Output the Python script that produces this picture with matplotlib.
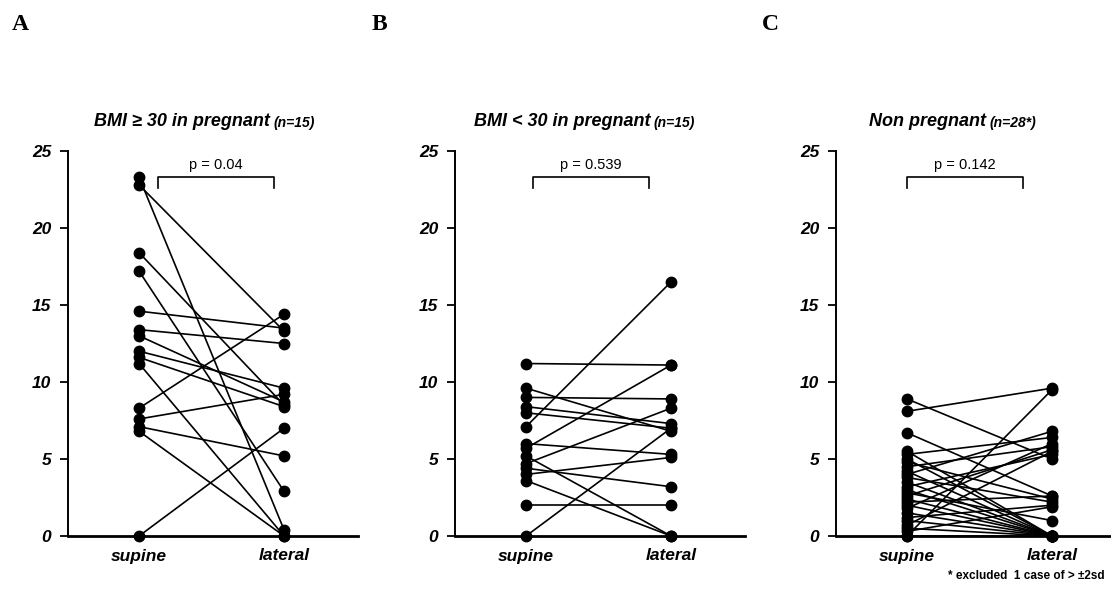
import matplotlib
matplotlib.use("Agg")
import matplotlib.pyplot as plt

# ---- data ----
conditions = ["supine", "lateral"]

supine_A = [23.3, 22.8, 18.4, 17.2, 14.6, 13.4, 13.0, 12.0, 11.6, 11.2, 8.3, 7.6, 7.1, 6.8, 0.0]
lateral_A = [0.4, 13.3, 8.5, 2.9, 13.5, 12.5, 8.7, 9.6, 8.4, 0.0, 14.4, 9.2, 5.2, 0.0, 7.0]

supine_B = [11.2, 9.6, 9.0, 8.4, 8.0, 7.1, 6.0, 5.7, 5.2, 4.7, 4.4, 4.0, 3.6, 2.0, 0.0]
lateral_B = [11.1, 6.8, 8.9, 7.3, 7.0, 16.5, 5.3, 11.1, 0.0, 8.3, 3.2, 5.1, 0.0, 2.0, 7.0]

supine_C = [8.9, 8.1, 6.7, 5.5, 5.3, 5.0, 4.8, 4.5, 4.2, 4.0, 3.8, 3.5, 3.2, 3.0,
            2.8, 2.6, 2.4, 2.2, 2.0, 1.8, 1.5, 1.2, 1.0, 0.7, 0.5, 0.3, 0.0, 0.0]
lateral_C = [5.0, 9.6, 2.6, 0.0, 6.4, 0.0, 2.4, 5.8, 0.0, 6.8, 2.2, 0.0, 5.3, 0.0,
             1.0, 5.6, 0.0, 2.6, 0.0, 6.0, 0.0, 2.0, 0.0, 5.5, 0.0, 1.9, 9.5, 0.0]

panel_letters = ["A", "B", "C"]
titles_main = ["BMI \u2265 30 in pregnant", "BMI < 30 in pregnant", "Non pregnant"]
titles_n = ["(n=15)", "(n=15)", "(n=28*)"]
p_labels = ["p = 0.04", "p = 0.539", "p = 0.142"]
y_ticks = [0, 5, 10, 15, 20, 25]
footnote = "* excluded  1 case of > \u00b12sd"

# ---- layout ----
W, H = 1111, 590
fig = plt.figure(figsize=(W / 100, H / 100), dpi=100)
fig.patch.set_facecolor("white")

sans = ["Liberation Sans", "DejaVu Sans"]
serif = ["Liberation Serif", "DejaVu Serif"]

lefts_px = [68, 455, 836]
ax_w_px = 290
bottom_px = 536
top_px = 151
brackets = [(0.13, 0.93), (0.05, 0.85), (0.0, 0.80)]
title_split_px = [270, 651, 986]
letter_x_px = [12, 372, 762]

data = [(supine_A, lateral_A), (supine_B, lateral_B), (supine_C, lateral_C)]

for i in range(3):
    l = lefts_px[i] / W
    w = min(ax_w_px, W - lefts_px[i]) / W
    b = (H - bottom_px) / H
    h = (bottom_px - top_px) / H
    ax = fig.add_axes([l, b, w, h])
    sup, lat = data[i]
    for s, t in zip(sup, lat):
        ax.plot([0, 1], [s, t], color="black", lw=1.2, marker="o",
                markersize=7.5, markerfacecolor="black", markeredgecolor="black",
                solid_capstyle="round", clip_on=False, zorder=3)
    ax.set_xlim(-0.49, -0.49 + 2.0 * w * W / ax_w_px)
    ax.set_ylim(0, 25)
    ax.set_yticks(y_ticks)
    ax.set_yticklabels([str(v) for v in y_ticks], fontsize=12.5, fontweight="bold",
                       fontstyle="italic", family=sans)
    ax.set_xticks([0, 1])
    ax.set_xticklabels(conditions, fontsize=12.5, fontweight="bold",
                       fontstyle="italic", family=sans)
    ax.tick_params(axis="x", length=0, pad=9)
    ax.tick_params(axis="y", length=6, width=1.3, direction="out", pad=6)
    for sp in ["top", "right"]:
        ax.spines[sp].set_visible(False)
    ax.spines["left"].set_linewidth(1.4)
    ax.spines["bottom"].set_linewidth(2.0)
    ax.patch.set_alpha(0)

    # significance bracket
    x0, x1 = brackets[i]
    yb = 23.3
    ax.plot([x0, x0, x1, x1], [yb - 0.7, yb, yb, yb - 0.7], color="black",
            lw=1.2, clip_on=False)
    ax.text((x0 + x1) / 2, yb + 0.35, p_labels[i], ha="center", va="bottom",
            fontsize=10.5, family=sans)

    # titles
    ty = 1 - 122 / H
    fig.text(title_split_px[i] / W, ty, titles_main[i], ha="right", va="center",
             fontsize=13, fontweight="bold", fontstyle="italic", family=sans)
    fig.text((title_split_px[i] + 3) / W, ty - 0.002, titles_n[i], ha="left",
             va="center", fontsize=10, fontweight="bold", fontstyle="italic",
             family=sans)

    # panel letter
    fig.text(letter_x_px[i] / W, 1 - 25 / H, panel_letters[i], ha="left",
             va="center", fontsize=17, fontweight="bold", family=serif)

fig.text(1105 / W, 1 - 576 / H, footnote, ha="right", va="center",
         fontsize=8.5, fontweight="bold", family=sans)

fig.savefig("out.png", dpi=100, facecolor="white")
